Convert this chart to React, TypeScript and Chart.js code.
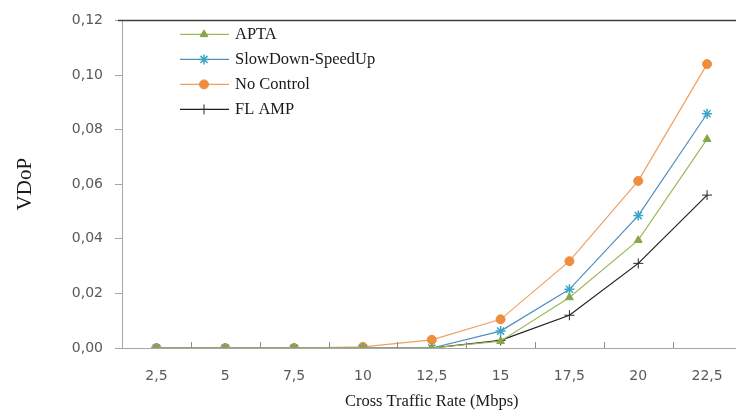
import React, { useEffect, useRef } from "react";
import { Chart, registerables } from "chart.js";
import { drawPoint } from "chart.js/helpers";

Chart.register(...registerables);

const categories = ["2,5", "5", "7,5", "10", "12,5", "15", "17,5", "20", "22,5"];
const apta = [0, 0, 0, 0, 0, 0.0025, 0.0185, 0.0395, 0.0765];
const slowDown = [0, 0, 0, 0, 0, 0.0062, 0.0215, 0.0485, 0.0858];
const noControl = [0, 0, 0, 0.0004, 0.003, 0.0105, 0.0318, 0.0612, 0.104];
const flamp = [0, 0, 0, 0, 0, 0.0028, 0.012, 0.031, 0.056];
const yTicks = [0, 0.02, 0.04, 0.06, 0.08, 0.1, 0.12];

const SERIF = "'Liberation Serif', 'Times New Roman', serif";
const SANS = "'DejaVu Sans', Verdana, sans-serif";

const decorPlugin = {
  id: "decor",
  afterDatasetsDraw(chart: any) {
    const { ctx, chartArea } = chart;
    const xs = chart.scales.x;
    ctx.save();
    // top border
    ctx.strokeStyle = "#404040";
    ctx.lineWidth = 1.5;
    ctx.beginPath();
    ctx.moveTo(chartArea.left - 4, chartArea.top);
    ctx.lineTo(chartArea.right, chartArea.top);
    ctx.stroke();
    // inside x ticks at category boundaries
    ctx.strokeStyle = "#8c8c8c";
    ctx.lineWidth = 1;
    for (let i = 0; i < categories.length - 1; i++) {
      const x = Math.round((xs.getPixelForValue(i) + xs.getPixelForValue(i + 1)) / 2) + 0.5;
      ctx.beginPath();
      ctx.moveTo(x, chartArea.bottom);
      ctx.lineTo(x, chartArea.bottom - 6);
      ctx.stroke();
    }
    // legend
    const lx = chartArea.left + 58;
    let ly = chartArea.top + 14;
    chart.data.datasets.forEach((ds: any) => {
      ctx.strokeStyle = ds.borderColor;
      ctx.lineWidth = 1.2;
      ctx.beginPath();
      ctx.moveTo(lx, ly);
      ctx.lineTo(lx + 49, ly);
      ctx.stroke();
      ctx.fillStyle = ds.pointBackgroundColor;
      ctx.strokeStyle = ds.pointBorderColor;
      ctx.lineWidth = ds.pointBorderWidth;
      drawPoint(ctx, { pointStyle: ds.pointStyle, radius: ds.pointRadius, rotation: 0, borderWidth: ds.pointBorderWidth }, lx + 24, ly);
      ctx.fillStyle = "#1a1a1a";
      ctx.font = `16.5px ${SERIF}`;
      ctx.textBaseline = "middle";
      ctx.textAlign = "left";
      ctx.fillText(ds.label, lx + 55, ly);
      ly += 25;
    });
    ctx.restore();
  },
};

export default function App() {
  const ref = useRef<HTMLCanvasElement>(null);
  useEffect(() => {
    const mk = (label: string, data: number[], line: string, pt: string, style: string, r: number, bw: number) => ({
      label,
      data,
      borderColor: line,
      borderWidth: 1.2,
      pointStyle: style,
      pointRadius: r,
      pointBackgroundColor: pt,
      pointBorderColor: pt,
      pointBorderWidth: bw,
      tension: 0,
    });
    const chart = new Chart(ref.current!, {
      type: "line",
      data: {
        labels: categories,
        datasets: [
          mk("APTA", apta, "#9bbb59", "#86a64b", "triangle", 4.5, 1),
          mk("SlowDown-SpeedUp", slowDown, "#4f8fc0", "#3ea6c2", "star", 5, 1.5),
          mk("No Control", noControl, "#f0a060", "#ef8d3e", "circle", 4.5, 1),
          mk("FL AMP", flamp, "#1e1e1e", "#2a2a2a", "cross", 5, 1),
        ] as any,
      },
      options: {
        animation: false,
        responsive: false,
        maintainAspectRatio: false,
        layout: { padding: { top: 16, left: 0, right: 0, bottom: 0 } },
        plugins: { legend: { display: false }, tooltip: { enabled: false } },
        scales: {
          x: {
            type: "category",
            offset: true,
            grid: { display: false, drawTicks: false },
            border: { display: true, color: "#a6a6a6", width: 1 },
            ticks: { color: "#595959", font: { family: SANS, size: 14 }, padding: 20, maxRotation: 0 },
            title: { display: true, text: "Cross Traffic Rate (Mbps)", color: "#1a1a1a", font: { family: SERIF, size: 16.5 }, padding: { top: 0, bottom: 2 } },
            afterFit: (s: any) => { s.height = 66; },
          },
          y: {
            min: 0,
            max: 0.12,
            afterBuildTicks: (s: any) => { s.ticks = yTicks.map((v) => ({ value: v })); },
            ticks: {
              color: "#595959",
              font: { family: SANS, size: 14 },
              padding: 12,
              callback: (v: any) => Number(v).toFixed(2).replace(".", ","),
            },
            grid: { drawOnChartArea: false, tickLength: 7, color: "#a6a6a6" },
            border: { display: true, color: "#a6a6a6", width: 1 },
            title: { display: true, text: "VDoP", color: "#1a1a1a", font: { family: SERIF, size: 21 }, padding: { top: 13, bottom: 0 } },
            afterFit: (s: any) => { s.width = 122; },
          },
        },
      },
      plugins: [decorPlugin],
    } as any);
    return () => chart.destroy();
  }, []);
  return (
    <div style={{ position: "fixed", left: 0, top: 0, width: 736, height: 414, overflow: "hidden", background: "#fff" }}>
      <canvas ref={ref} width={748} height={414} style={{ display: "block" }} />
    </div>
  );
}
